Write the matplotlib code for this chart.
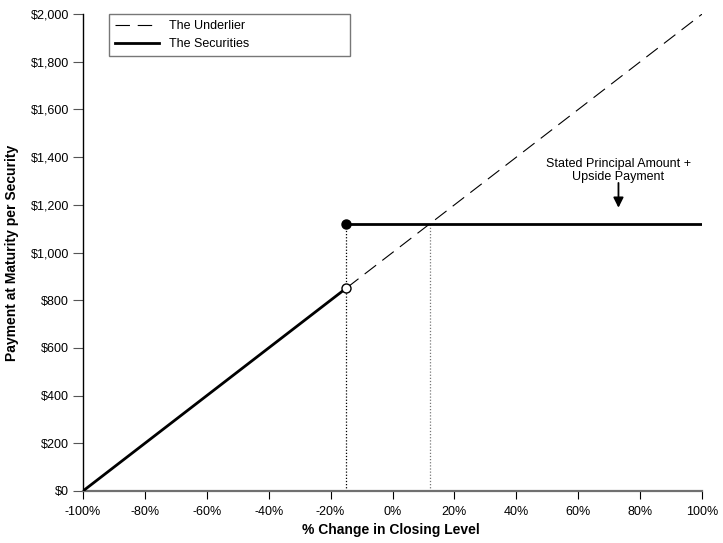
import numpy as np
import matplotlib
matplotlib.use("Agg")
import matplotlib.pyplot as plt

plt.rcParams['font.family'] = ['Liberation Sans', 'DejaVu Sans']

# datos
und_x = [-100, 100]
und_y = [0, 2000]
sec_low_x = [-100, -15]
sec_low_y = [0, 850]
sec_high_x = [-15, 100]
sec_high_y = [1120, 1120]
barrier = -15
cap_x = 12
xticks = [-100, -80, -60, -40, -20, 0, 20, 40, 60, 80, 100]
yticks = [0, 200, 400, 600, 800, 1000, 1200, 1400, 1600, 1800, 2000]

fig = plt.figure(figsize=(7.23, 5.43), dpi=100)
ax = fig.add_axes([0.1148, 0.0958, 0.971 - 0.1148, 0.974 - 0.0958])

ax.plot(und_x, und_y, color='black', lw=0.8, dashes=(13, 7), label='The Underlier')
ax.plot(sec_low_x, sec_low_y, color='black', lw=2, label='The Securities', zorder=3)
ax.plot(sec_high_x, sec_high_y, color='black', lw=2, zorder=3)

ax.plot([barrier, barrier], [0, sec_high_y[0]], color='black', lw=0.9, ls=(0, (1, 1.5)))
ax.plot([cap_x, cap_x], [0, sec_high_y[0]], color='#777777', lw=0.9, ls=(0, (1, 1.5)))

ax.plot(barrier, sec_high_y[0], 'o', color='black', ms=6.5, zorder=4)
ax.plot(barrier, sec_low_y[1], 'o', mfc='white', mec='black', mew=1, ms=6.5, zorder=4)

ax.text(73, 1345, 'Stated Principal Amount +\nUpside Payment', ha='center', va='center',
        fontsize=9, linespacing=1.15)
ax.annotate('', xy=(73, 1188), xytext=(73, 1292),
            arrowprops=dict(arrowstyle='-|>', color='black', lw=1.3, mutation_scale=15,
                            shrinkA=0, shrinkB=0))

ax.set_xlim(-100, 100)
ax.set_ylim(0, 2000)
ax.set_xticks(xticks)
ax.set_xticklabels([f'{v}%' for v in xticks])
ax.set_yticks(yticks)
ax.set_yticklabels([f'${v:,}' for v in yticks])
ax.tick_params(labelsize=9, direction='out')
ax.tick_params(axis='y', colors='#555555', labelcolor='black', length=7, pad=3)
ax.tick_params(axis='x', colors='black', labelcolor='black', length=6, pad=5)

for s in ['top', 'right']:
    ax.spines[s].set_visible(False)
ax.spines['bottom'].set_color('#707070')
ax.spines['bottom'].set_linewidth(1.6)
ax.spines['left'].set_color('black')
ax.spines['left'].set_linewidth(1.0)

ax.set_xlabel('% Change in Closing Level', fontsize=10, fontweight='bold')
ax.set_ylabel('Payment at Maturity per Security', fontsize=10, fontweight='bold')
ax.xaxis.set_label_coords(0.497, -0.067)
ax.yaxis.set_label_coords(-0.103, 0.5)

leg = ax.legend(loc='upper left', bbox_to_anchor=(0.042, 1.0, 0.389, 0.0), mode='expand',
                fontsize=9, frameon=True, fancybox=False, edgecolor='#555555',
                handlelength=3.5, borderaxespad=0, labelspacing=0.45, borderpad=0.5)
leg.get_frame().set_linewidth(1.0)

fig.savefig('out.png', dpi=100)
